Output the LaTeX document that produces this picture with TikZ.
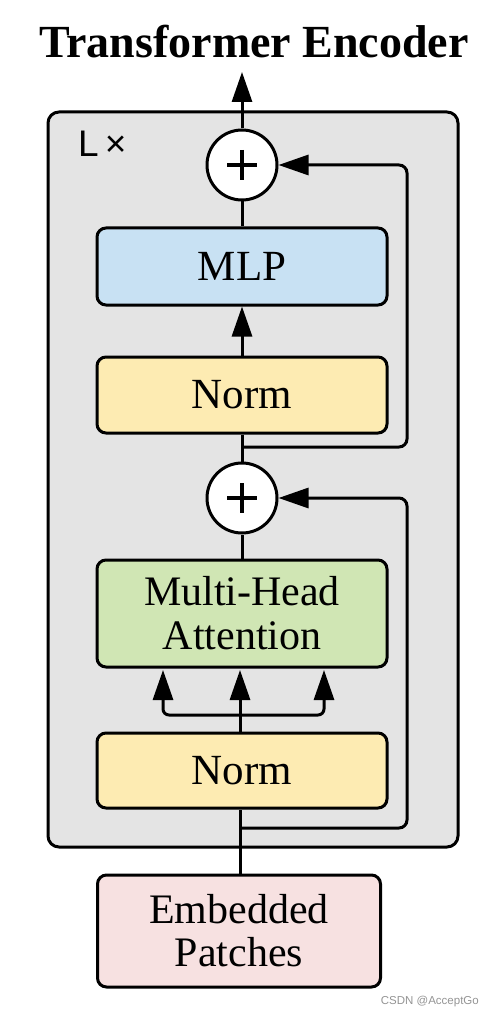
\documentclass[tikz,border=0pt]{standalone}
\usepackage{fontspec}
\setmainfont{Liberation Serif}
\newfontfamily\sansf{Liberation Sans}
\usetikzlibrary{arrows.meta}
\definecolor{outerc}{HTML}{E4E4E4}
\definecolor{mlpc}{HTML}{C8E1F3}
\definecolor{normc}{HTML}{FDEBB2}
\definecolor{mhac}{HTML}{D0E6B4}
\definecolor{embc}{HTML}{F7E1E1}
\tikzset{
  box/.style={draw=black, line width=3pt, rounded corners=9pt, minimum width=290pt, inner sep=0pt, align=center, font=\fontsize{43}{43}\selectfont},
  addc/.style={draw=black, fill=white, line width=3pt, circle, minimum size=70pt, inner sep=0pt},
  conn/.style={line width=3pt, draw=black},
  arr/.style={conn, -{Triangle[length=30pt,width=20pt]}},
  res/.style={arr, rounded corners=8pt}
}
\begin{document}
\begin{tikzpicture}[x=1pt,y=-1pt]
\useasboundingbox (0,0) rectangle (494,1016);
% outer box
\node[draw=black, fill=outerc, line width=3pt, rounded corners=11pt, minimum width=410pt, minimum height=735pt, inner sep=0pt] (outer) at (253,479.5) {};
\node[anchor=base west, font=\sansf\fontsize{37}{37}\selectfont, inner sep=0pt] (lx) at (78,157) {L\,×};
% title
\node[font=\bfseries\fontsize{46}{46}\selectfont, inner sep=0pt, anchor=base] (title) at (254,58) {Transformer Encoder};
% boxes
\node[box, fill=mlpc, minimum height=77pt] (mlp) at (242,266.5) {MLP};
\node[box, fill=normc, minimum height=76pt] (norm1) at (242,395) {Norm};
\node[addc] (add1) at (242,165) {};
\node[addc] (add2) at (242,498) {};
\node[box, fill=mhac, minimum height=107pt, font=\fontsize{42}{44}\selectfont] (mha) at (242,613.5) {Multi-Head\\Attention};
\node[box, fill=normc, minimum height=75pt] (norm2) at (242,770.5) {Norm};
\node[box, fill=embc, minimum width=283pt, minimum height=112pt, font=\fontsize{42}{43}\selectfont] (emb) at (239,931) {Embedded\\Patches};
% plus signs
\draw[line width=3.5pt] (add1.center) ++(-15,0) -- ++(30,0);
\draw[line width=3.5pt] (add1.center) ++(0,-15) -- ++(0,30);
\draw[line width=3.5pt] (add2.center) ++(-15,0) -- ++(30,0);
\draw[line width=3.5pt] (add2.center) ++(0,-15) -- ++(0,30);
% coordinates
\coordinate (out) at (242,72);
\coordinate (r1a) at (242,447);
\coordinate (r1b) at (407,447);
\coordinate (r1c) at (407,165);
\coordinate (r2a) at (240,828);
\coordinate (r2b) at (407,828);
\coordinate (r2c) at (407,498);
\coordinate (split) at (240,715);
\coordinate (tl) at (163,670);
\coordinate (tc) at (240,670);
\coordinate (tr) at (324,670);
% main stem
\draw[conn] (emb.north -| r2a) -- (norm2.south -| r2a);
\draw[arr] (add1.north) -- (out);
\draw[conn] (mlp.north) -- (add1.south);
\draw[arr] (norm1.north) -- (mlp.south);
\draw[conn] (norm1.south) -- (add2.north);
\draw[conn] (mha.north) -- (add2.south);
% residuals
\draw[res] (r1a) -- (r1b) -- (r1c) -- (add1.east);
\draw[res] (r2a) -- (r2b) -- (r2c) -- (add2.east);
% qkv
\draw[arr] (norm2.north -| tc) -- (tc);
\draw[arr, rounded corners=6pt] (split) -| (tl);
\draw[arr, rounded corners=6pt] (split) -| (tr);
% watermark
\node[anchor=base east, font=\sansf\fontsize{11.5}{12}\selectfont, text=black!42, inner sep=0pt] (wm) at (479,1004) {CSDN @AcceptGo};
\end{tikzpicture}
\end{document}
